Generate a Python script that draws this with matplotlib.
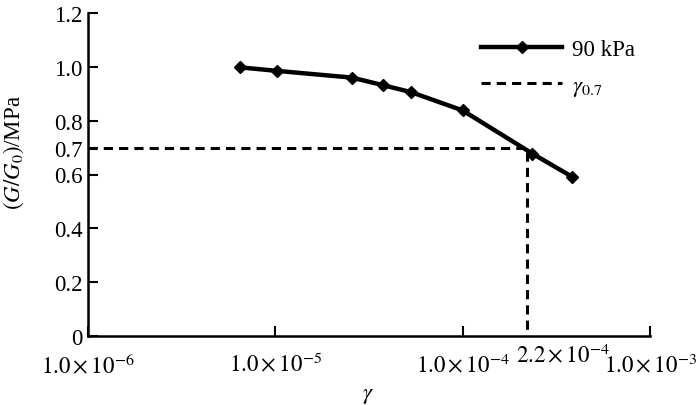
import matplotlib
matplotlib.use('Agg')
import matplotlib.pyplot as plt
import matplotlib.ticker as ticker

# shear strain vs normalised modulus, 90 kPa
strain = [6.5e-6, 1.02e-5, 2.56e-5, 3.75e-5, 5.3e-5, 1.0e-4, 2.35e-4, 3.85e-4]
modulus = [0.998, 0.985, 0.96, 0.932, 0.906, 0.838, 0.678, 0.591]

gamma_07 = 2.2e-4
g_07 = 0.7

x_ticks = [1e-6, 1e-5, 1e-4, 1e-3]
x_labels = [r'$1.0\times10^{-6}$', r'$1.0\times10^{-5}$', r'$1.0\times10^{-4}$', r'$1.0\times10^{-3}$']
y_ticks = [0, 0.2, 0.4, 0.6, 0.7, 0.8, 1.0, 1.2]
y_labels = ['0', '0.2', '0.4', '0.6', '0.7', '0.8', '1.0', '1.2']

plt.rcParams['font.family'] = ['Liberation Serif', 'DejaVu Serif']
plt.rcParams['mathtext.fontset'] = 'stix'
fs = 16.5

fig = plt.figure(figsize=(7.0, 4.06), dpi=100)
ax = fig.add_axes([88/700, 1 - 337/406, (650 - 88)/700, (337 - 14)/406])

ax.plot(strain, modulus, 'k-', lw=3.2, marker='D', ms=6.5, label='90 kPa')
ax.plot([1e-6, gamma_07, gamma_07], [g_07, g_07, 0], 'k--', lw=2.2,
        dashes=(3, 2), label=r'$\gamma_{0.7}$')

ax.set_xscale('log')
ax.set_xlim(1e-6, 1e-3)
ax.set_ylim(0, 1.2)
ax.set_xticks(x_ticks)
ax.set_xticklabels(x_labels)
ax.xaxis.set_minor_locator(ticker.NullLocator())
ax.set_yticks(y_ticks)
ax.set_yticklabels(y_labels)

# extra label for gamma_0.7, raised like in the original
ax.text(gamma_07 * 1.56, -0.022, r'$2.2\times10^{-4}$', ha='center', va='top',
        transform=ax.get_xaxis_transform(), fontsize=fs)

for s in ['top', 'right']:
    ax.spines[s].set_visible(False)
for s in ['left', 'bottom']:
    ax.spines[s].set_linewidth(1.8)
ax.tick_params(direction='in', length=7, width=1.5, colors='k', labelsize=fs)
ax.tick_params(axis='x', pad=12)
ax.tick_params(axis='y', pad=4)

ax.set_xlabel(r'$\gamma$', fontsize=fs)
ax.xaxis.set_label_coords(0.498, -0.18)
ax.xaxis.label.set_verticalalignment('center')
ax.set_ylabel(r'$(G/G_0)$/MPa', fontsize=fs)
ax.yaxis.set_label_coords(-0.11, 0.57)

ax.legend(loc='upper left', bbox_to_anchor=(0.70, 0.92), frameon=False,
          borderaxespad=0, borderpad=0, handlelength=3.5, handletextpad=0.45,
          labelspacing=0.65, fontsize=fs)

fig.savefig('out.png', dpi=100)
